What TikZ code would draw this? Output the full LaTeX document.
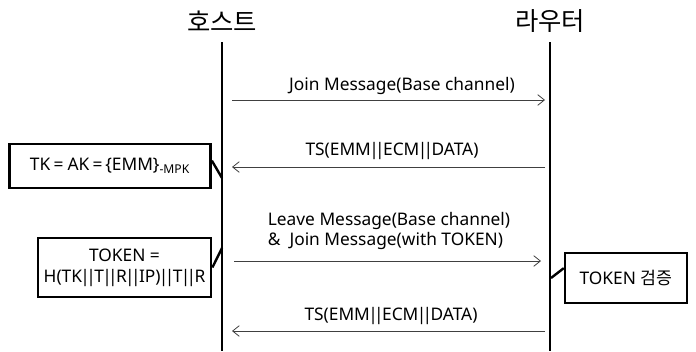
\documentclass[tikz,border=0pt]{standalone}
\usepackage{fontspec}
\setmainfont{Noto Sans}
\newfontfamily\krfont{Noto Sans CJK KR}
\usetikzlibrary{arrows.meta}

% tight concatenation bars
\newcommand{\cc}{\kern-1.2pt|\kern-2.8pt|\kern-1.2pt}

\begin{document}
\begin{tikzpicture}[x=0.75pt,y=-0.75pt,
    lifeline/.style={line width=2.2pt},
    msg/.style={draw=black!75,line width=0.6pt,-{Straight Barb[length=5pt,width=8pt]}},
    msglabel/.style={font=\fontsize{13}{15.5}\selectfont,inner sep=1pt},
    notebox/.style={draw,line width=1.8pt,font=\fontsize{13}{15.5}\selectfont,align=center,inner sep=2pt},
    title/.style={font=\krfont\fontsize{19}{22}\selectfont}]
    \useasboundingbox (0,0) rectangle (696,351);

    % lifelines
    \node[title] (host) at (222,21) {호스트};
    \node[title] (router) at (550,21) {라우터};
    \coordinate (hosttop) at (222,42);
    \coordinate (hostbot) at (222,351);
    \coordinate (routertop) at (550,42);
    \coordinate (routerbot) at (550,351);
    \draw[lifeline] (hosttop) -- (hostbot);
    \draw[lifeline] (routertop) -- (routerbot);

    % message end points
    \coordinate (join1) at (232,100);
    \coordinate (join2) at (545,100);
    \coordinate (ts1a) at (545,167);
    \coordinate (ts1b) at (232,167);
    \coordinate (leave1) at (234,261);
    \coordinate (leave2) at (541,261);
    \coordinate (ts2a) at (545,331);
    \coordinate (ts2b) at (232,331);

    \draw[msg] (join1) -- (join2);
    \node[msglabel] (joinlbl) at (402,86) {Join Message(Base channel)};
    \draw[msg] (ts1a) -- (ts1b);
    \node[msglabel] (ts1lbl) at (392,151) {TS(EMM\cc ECM\cc DATA)};
    \draw[msg] (leave1) -- (leave2);
    \node[msglabel,align=left] (leavelbl) at (389,231) {Leave Message(Base channel)\\\&\ \ Join Message(with TOKEN)};
    \draw[msg] (ts2a) -- (ts2b);
    \node[msglabel] (ts2lbl) at (391,316) {TS(EMM\cc ECM\cc DATA)};

    % notes beside the lifelines
    \node[notebox,minimum width=151pt,minimum height=33pt] (tk) at (110,166)
        {TK\hspace{2.5pt}=\hspace{3pt}AK\hspace{2.5pt}=\hspace{2pt}\{EMM\}\textsubscript{-MPK}};
    \node[notebox,minimum width=130pt,minimum height=44pt] (token) at (124.5,267.5)
        {TOKEN =\\H(TK\cc T\cc R\cc IP)\cc T\cc R};
    \node[notebox,minimum width=91.5pt,minimum height=37.5pt] (check) at (626,278)
        {TOKEN {\krfont 검증}};
    \coordinate (tkhook) at (222,178);
    \coordinate (tokenhook) at (222,248);
    \coordinate (checkhook) at (551,278);
    \draw[line width=1.8pt] (tk.3) -- (tkhook);
    \draw[line width=1.8pt] (token.east) -- (tokenhook);
    \draw[line width=1.8pt] (check.171) -- (checkhook);
\end{tikzpicture}
\end{document}
